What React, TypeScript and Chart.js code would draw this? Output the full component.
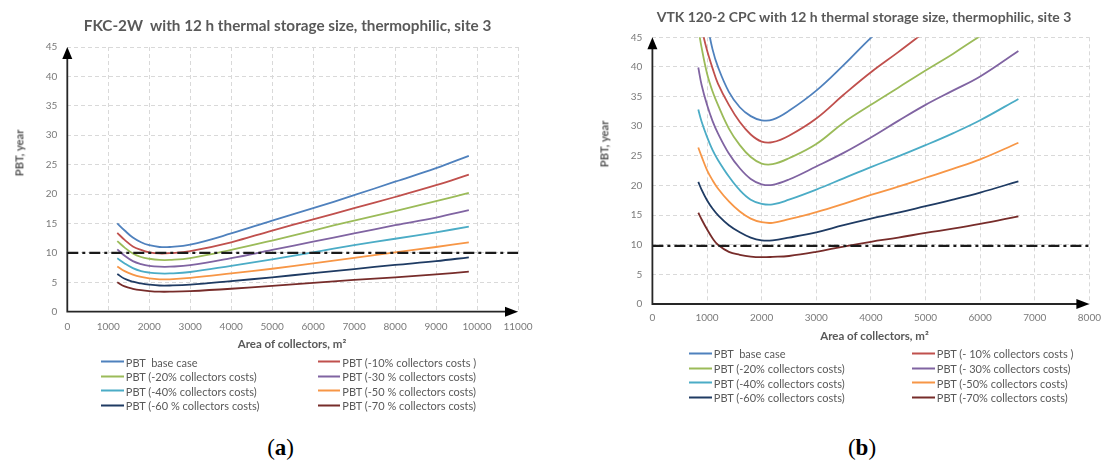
import React, { useEffect, useRef } from "react";
import { Chart, registerables } from "chart.js";

Chart.register(...registerables);

const FONT = "Lato, 'Open Sans', sans-serif";

// ---------- Panel (a): FKC-2W ----------
const areaA = [1220, 1400, 1600, 1800, 2000, 2250, 2500, 3000, 4000, 5000, 6000, 7000, 8000, 9000, 9800];
const baseA = [15.0, 13.8, 12.6, 11.8, 11.3, 11.0, 11.0, 11.4, 13.3, 15.5, 17.6, 19.8, 22.1, 24.4, 26.5];
const minus10A = [13.4, 12.2, 11.1, 10.5, 10.1, 9.9, 9.95, 10.3, 11.8, 13.8, 15.7, 17.6, 19.5, 21.5, 23.3];
const minus20A = [12.0, 10.9, 9.9, 9.3, 9.0, 8.8, 8.8, 9.1, 10.5, 12.1, 13.8, 15.5, 17.1, 18.8, 20.2];
const minus30A = [10.6, 9.5, 8.6, 8.1, 7.8, 7.65, 7.65, 7.9, 9.1, 10.5, 11.9, 13.3, 14.7, 16.0, 17.25];
const minus40A = [9.1, 8.2, 7.4, 6.9, 6.65, 6.5, 6.5, 6.75, 7.8, 8.9, 10.1, 11.3, 12.4, 13.5, 14.46];
const minus50A = [7.7, 6.9, 6.3, 5.9, 5.65, 5.5, 5.5, 5.75, 6.5, 7.3, 8.2, 9.15, 10.1, 11.0, 11.8];
const minus60A = [6.4, 5.6, 5.1, 4.8, 4.6, 4.45, 4.45, 4.6, 5.2, 5.85, 6.55, 7.25, 7.95, 8.6, 9.25];
const minus70A = [5.0, 4.3, 3.9, 3.65, 3.5, 3.4, 3.4, 3.5, 3.9, 4.4, 4.9, 5.4, 5.85, 6.35, 6.8];
const thresholdA = 10;
const xTicksA = [0, 1000, 2000, 3000, 4000, 5000, 6000, 7000, 8000, 9000, 10000, 11000];
const labelsA = [
  "PBT  base case",
  "PBT (-10% collectors costs )",
  "PBT (-20% collectors costs)",
  "PBT (-30 % collectors costs)",
  "PBT (-40% collectors costs)",
  "PBT (-50 % collectors costs)",
  "PBT (-60 % collectors costs)",
  "PBT (-70 % collectors costs)",
];
const titleA = "FKC-2W  with 12 h thermal storage size, thermophilic, site 3";

// ---------- Panel (b): VTK 120-2 CPC ----------
const areaB = [840, 900, 1000, 1100, 1200, 1400, 1600, 1800, 2000, 2200, 2500, 3000, 3500, 4000, 4500, 5000, 5500, 6000, 6700];
const baseB = [null, null, 47.5, 43.0, 40.0, 35.8, 33.2, 31.7, 31.0, 31.1, 32.6, 36.0, 40.3, 44.9, 49.0, null, null, null, null];
const minus10B = [null, 46.5, 42.8, 39.8, 37.2, 33.6, 30.7, 28.6, 27.4, 27.3, 28.4, 31.3, 35.3, 39.1, 42.5, 46.0, null, null, null];
const minus20B = [46.5, 43.3, 38.9, 35.9, 33.6, 29.6, 26.8, 24.8, 23.7, 23.6, 24.6, 27.0, 30.6, 33.6, 36.5, 39.4, 42.2, 45.2, 49.0];
const minus30B = [39.9, 37.0, 33.6, 30.9, 28.8, 25.4, 22.9, 21.1, 20.2, 20.1, 21.0, 23.2, 25.5, 28.1, 30.9, 33.6, 36.0, 38.4, 42.7];
const minus40B = [32.8, 30.8, 28.2, 26.0, 24.3, 21.5, 19.2, 17.6, 16.9, 16.8, 17.6, 19.3, 21.2, 23.1, 24.9, 26.8, 28.8, 31.0, 34.6];
const minus50B = [26.4, 24.9, 22.6, 20.9, 19.5, 17.3, 15.6, 14.4, 13.8, 13.7, 14.3, 15.5, 16.9, 18.4, 19.8, 21.3, 22.8, 24.4, 27.2];
const minus60B = [20.6, 19.3, 17.5, 16.1, 15.0, 13.3, 12.1, 11.2, 10.75, 10.75, 11.2, 12.1, 13.3, 14.4, 15.4, 16.5, 17.6, 18.8, 20.7];
const minus70B = [15.4, 14.3, 12.6, 11.1, 10.0, 8.8, 8.3, 8.0, 7.9, 7.95, 8.1, 8.8, 9.7, 10.5, 11.2, 12.0, 12.7, 13.5, 14.8];
const thresholdB = 9.8;
const xTicksB = [0, 1000, 2000, 3000, 4000, 5000, 6000, 7000, 8000];
const labelsB = [
  "PBT  base case",
  "PBT (- 10% collectors costs )",
  "PBT (-20% collectors costs)",
  "PBT (- 30% collectors costs)",
  "PBT (-40% collectors costs)",
  "PBT (-50% collectors costs)",
  "PBT (-60% collectors costs)",
  "PBT (-70% collectors costs)",
];
const titleB = "VTK 120-2 CPC with 12 h thermal storage size, thermophilic, site 3";

const yTicks = [0, 5, 10, 15, 20, 25, 30, 35, 40, 45];
const yTitle = "PBT, year";
const xTitle = "Area of collectors, m²";
const seriesColors = ["#4F81BD", "#C0504D", "#9BBB59", "#8064A2", "#4BACC6", "#F79646", "#1F3B63", "#772C2A"];

const seriesA = [baseA, minus10A, minus20A, minus30A, minus40A, minus50A, minus60A, minus70A];
const seriesB = [baseB, minus10B, minus20B, minus30B, minus40B, minus50B, minus60B, minus70B];

let measureCtx: CanvasRenderingContext2D | null = null;
function fitSize(text: string, weight: number, target: number): number {
  if (!measureCtx) measureCtx = document.createElement("canvas").getContext("2d");
  if (!measureCtx) return 12;
  measureCtx.font = `${weight} 100px ${FONT}`;
  const w = measureCtx.measureText(text).width;
  return (100 * target) / w;
}

const axisArrows = {
  id: "axisArrows",
  afterDatasetsDraw(chart: any) {
    const { ctx, scales } = chart;
    const x = scales.x;
    const y = scales.y;
    const x0 = x.getPixelForValue(0);
    const y0 = y.getPixelForValue(0);
    const xEnd = x.getPixelForValue(x.max);
    const yEnd = y.getPixelForValue(y.max);
    ctx.save();
    ctx.strokeStyle = "#262626";
    ctx.lineWidth = 1.8;
    ctx.setLineDash([]);
    ctx.beginPath();
    ctx.moveTo(x0 - 0.9, y0);
    ctx.lineTo(xEnd - 8, y0);
    ctx.moveTo(x0, y0 + 0.9);
    ctx.lineTo(x0, yEnd + 8);
    ctx.stroke();
    ctx.fillStyle = "#000000";
    ctx.beginPath();
    ctx.moveTo(xEnd, y0);
    ctx.lineTo(xEnd - 13, y0 - 5);
    ctx.lineTo(xEnd - 13, y0 + 5);
    ctx.closePath();
    ctx.fill();
    ctx.beginPath();
    ctx.moveTo(x0, yEnd);
    ctx.lineTo(x0 - 5, yEnd + 12);
    ctx.lineTo(x0 + 5, yEnd + 12);
    ctx.closePath();
    ctx.fill();
    ctx.restore();
  },
};

function makeConfig(
  xs: number[],
  series: (number | null)[][],
  names: string[],
  threshold: number,
  xTicks: number[],
  yWidth: number,
  xHeight: number,
  pad: { left: number; right: number; top: number; bottom: number },
  tickPadX: number
) {
  const xMax = xTicks[xTicks.length - 1];
  const datasets: any[] = series.map((vals, i) => ({
    label: names[i],
    data: xs.map((xv, j) => ({ x: xv, y: vals[j] })),
    borderColor: seriesColors[i],
    backgroundColor: seriesColors[i],
    borderWidth: 1.8,
    pointRadius: 0,
    fill: false,
    tension: 0.4,
    order: 1,
  }));
  datasets.push({
    label: "threshold",
    data: [
      { x: 0, y: threshold },
      { x: xMax, y: threshold },
    ],
    borderColor: "#1a1a1a",
    borderWidth: 2.2,
    borderDash: [11, 4, 3, 4],
    pointRadius: 0,
    fill: false,
    order: -1,
  });
  const tickFont = { family: FONT, size: 10 };
  return {
    type: "line",
    data: { datasets },
    plugins: [axisArrows],
    options: {
      animation: false,
      responsive: false,
      maintainAspectRatio: false,
      layout: { padding: pad },
      elements: { line: { capBezierPoints: false }, point: { radius: 0 } },
      plugins: {
        legend: { display: false },
        title: { display: false },
        tooltip: { enabled: false },
      },
      scales: {
        x: {
          type: "linear",
          min: 0,
          max: xMax,
          afterBuildTicks: (s: any) => {
            s.ticks = xTicks.map((v) => ({ value: v }));
          },
          afterFit: (s: any) => {
            s.height = xHeight;
          },
          ticks: {
            color: "#7a7a7a",
            font: tickFont,
            padding: tickPadX,
            maxRotation: 0,
            autoSkip: false,
            callback: (v: any) => String(v),
          },
          grid: { color: "#d9d9d9", lineWidth: 1, drawTicks: false },
          border: { display: false, dash: [4, 3] },
        },
        y: {
          type: "linear",
          min: 0,
          max: 45,
          afterBuildTicks: (s: any) => {
            s.ticks = yTicks.map((v) => ({ value: v }));
          },
          afterFit: (s: any) => {
            s.width = yWidth;
          },
          ticks: {
            color: "#7a7a7a",
            font: tickFont,
            padding: 10,
            autoSkip: false,
            callback: (v: any) => String(v),
          },
          grid: { color: "#d9d9d9", lineWidth: 1, drawTicks: false },
          border: { display: false, dash: [4, 3] },
        },
      },
    },
  };
}

const abs = (extra: React.CSSProperties): React.CSSProperties => ({
  position: "absolute",
  whiteSpace: "pre",
  fontFamily: FONT,
  lineHeight: 1,
  ...extra,
});

function Legend({ names, rowsY, col1, col2 }: { names: string[]; rowsY: number[]; col1: number; col2: number }) {
  return (
    <>
      {names.map((n, i) => {
        const row = Math.floor(i / 2);
        const left = i % 2 === 0 ? col1 : col2;
        const top = rowsY[row];
        return (
          <div key={i} style={abs({ left, top, transform: "translateY(-50%)", display: "flex", alignItems: "center", fontSize: "11px", color: "#595959" })}>
            <span style={{ display: "inline-block", width: 22.5, height: 2, background: seriesColors[i], marginRight: 2.3 }} />
            <span>{n}</span>
          </div>
        );
      })}
    </>
  );
}

export default function App() {
  const refA = useRef<HTMLCanvasElement | null>(null);
  const refB = useRef<HTMLCanvasElement | null>(null);

  useEffect(() => {
    const ca = new Chart(
      refA.current as HTMLCanvasElement,
      makeConfig(areaA, seriesA, labelsA, thresholdA, xTicksA, 67.3, 28.3, { left: 0, right: 27, top: 47, bottom: 0 }, 9) as any
    );
    const cb = new Chart(
      refB.current as HTMLCanvasElement,
      makeConfig(areaB, seriesB, labelsB, thresholdB, xTicksB, 92.4, 26, { left: 0, right: 14.2, top: 37.3, bottom: 0 }, 8) as any
    );
    return () => {
      ca.destroy();
      cb.destroy();
    };
  }, []);

  const bold: React.CSSProperties = { fontWeight: 700, color: "#595959" };
  const titleASize = fitSize(titleA, 700, 408);
  const titleBSize = fitSize(titleB, 700, 415);
  const xTitleSize = fitSize(xTitle, 700, 109);
  const yTitleSize = fitSize(yTitle, 700, 47);
  const serif = "'Liberation Serif', 'DejaVu Serif', serif";

  return (
    <div style={{ position: "absolute", left: 0, top: 0, width: 1109, height: 461, background: "#ffffff", overflow: "hidden" }}>
      <canvas ref={refA} width={545} height={340} style={{ position: "absolute", left: 0, top: 0, width: 545, height: 340 }} />
      <canvas ref={refB} width={549} height={330} style={{ position: "absolute", left: 560, top: 0, width: 549, height: 330 }} />

      <div style={abs({ ...bold, fontSize: `${titleASize}px`, left: 287.5, top: 26, transform: "translate(-50%,-50%)" })}>{titleA}</div>
      <div style={abs({ ...bold, fontSize: `${titleBSize}px`, left: 864, top: 17, transform: "translate(-50%,-50%)" })}>{titleB}</div>

      <div style={abs({ ...bold, fontSize: `${yTitleSize}px`, left: 19, top: 153, transform: "translate(-50%,-50%) rotate(-90deg)" })}>{yTitle}</div>
      <div style={abs({ ...bold, fontSize: `${yTitleSize}px`, left: 603.5, top: 144, transform: "translate(-50%,-50%) rotate(-90deg)" })}>{yTitle}</div>

      <div style={abs({ ...bold, fontSize: `${xTitleSize}px`, left: 292, top: 344, transform: "translate(-50%,-50%)" })}>{xTitle}</div>
      <div style={abs({ ...bold, fontSize: `${xTitleSize}px`, left: 874.5, top: 336, transform: "translate(-50%,-50%)" })}>{xTitle}</div>

      <Legend names={labelsA} rowsY={[361.7, 376, 390.7, 405]} col1={101} col2={317.5} />
      <Legend names={labelsB} rowsY={[353, 368, 382.7, 397.3]} col1={689} col2={912} />

      <div style={abs({ fontFamily: serif, fontSize: "23px", color: "#000", left: 280.6, top: 446.7, transform: "translate(-50%,-50%)" })}>
        (<b>a</b>)
      </div>
      <div style={abs({ fontFamily: serif, fontSize: "23px", color: "#000", left: 862, top: 446.7, transform: "translate(-50%,-50%)" })}>
        (<b>b</b>)
      </div>
    </div>
  );
}
